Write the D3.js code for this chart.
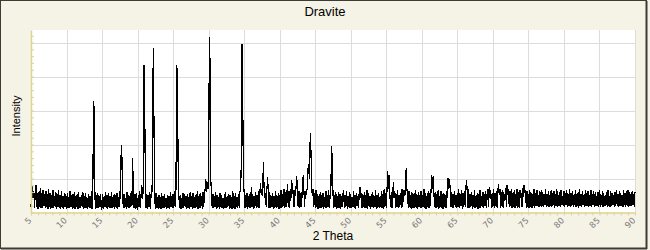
<!DOCTYPE html>
<html>
<head>
<meta charset="utf-8">
<script src="https://cdn.jsdelivr.net/npm/d3@7"></script>
<style>
  body { margin: 0; background: #f5f2e6; }
  svg { display: block; }
</style>
</head>
<body>
<script>
// XRD pattern, one value every 0.1 deg from 5 to 90 (2 theta)
var startAngle = 5;
var stepAngle = 0.1;
var intensity = [
  17,70,78,43,63,13,56,80,16,57,   // 5
  11,60,17,72,13,56,12,66,18,53,   // 6
  12,63,15,55,10,69,16,58,11,52,   // 7
  14,65,12,49,17,61,10,54,15,66,   // 8
  13,51,11,63,14,47,9,58,17,54,    // 9
  11,56,14,45,12,62,16,50,10,53,   // 10
  13,59,11,48,15,55,9,61,14,46,    // 11
  12,52,16,60,10,49,14,57,12,44,   // 12
  10,55,14,47,13,63,11,60,328,300, // 13
  46,10,52,13,58,12,49,15,55,9,    // 14
  14,53,11,47,15,61,12,50,10,56,   // 15
  14,48,12,59,13,45,16,54,11,51,   // 16
  13,57,10,46,15,63,40,198,160,50, // 17
  12,55,14,44,10,59,16,52,12,47,   // 18
  15,61,20,160,70,14,54,10,58,16,  // 19
  12,52,17,63,13,56,80,40,66,434,  // 20
  324,68,13,55,11,50,15,59,10,53,  // 21
  80,60,485,278,48,11,57,14,46,10, // 22
  51,13,45,10,58,14,49,12,54,16,   // 23
  43,10,52,13,47,11,60,15,48,12,   // 24
  55,14,63,17,70,434,406,151,56,12,// 25
  50,11,44,14,58,12,53,16,47,10,   // 26
  54,13,46,10,61,15,49,11,57,14,   // 27
  45,12,52,15,64,10,48,13,56,14,   // 28
  47,11,60,16,54,68,98,60,90,70,   // 29
  116,515,437,95,58,13,55,12,49,15,// 30
  61,11,52,14,46,10,57,15,50,12,   // 31
  44,10,53,14,59,12,47,16,55,11,   // 32
  51,13,45,11,63,14,48,10,56,16,   // 33
  46,12,54,14,60,68,151,496,331,64,// 34
  66,12,52,15,58,11,47,14,55,13,   // 35
  76,16,53,10,48,14,59,12,51,17,   // 36
  63,14,56,87,53,66,48,150,72,43,  // 37
  58,16,68,104,53,13,61,12,49,15,  // 38
  56,10,47,14,63,12,52,17,58,11,   // 39
  50,14,66,12,55,18,70,13,59,16,   // 40
  53,84,17,64,14,68,43,95,56,66,   // 41
  17,66,48,76,107,53,16,63,13,56,  // 42
  15,60,43,110,68,17,63,52,66,70,  // 43
  131,143,100,235,180,75,48,70,16,58, // 44
  13,65,17,54,11,49,14,60,12,52,   // 45
  15,57,10,46,14,63,12,51,16,66,   // 46
  13,54,70,196,151,56,12,52,15,59, // 47
  11,48,14,61,13,55,10,47,16,53,   // 48
  66,12,52,15,64,11,49,17,60,14,   // 49
  55,12,46,15,63,13,52,10,58,18,   // 50
  48,13,66,76,43,58,12,53,16,61,   // 51
  12,50,14,65,11,56,17,47,10,54,   // 52
  15,60,12,48,16,66,10,52,14,57,   // 53
  12,45,15,63,13,53,10,68,17,56,   // 54
  14,66,123,70,110,53,16,60,12,56, // 55
  90,43,63,13,55,17,66,12,52,15,   // 56
  58,14,70,17,53,66,48,72,130,68,  // 57
  56,12,63,15,51,11,59,14,54,13,   // 58
  47,66,14,55,10,61,16,50,13,63,   // 59
  12,52,17,68,14,57,10,49,15,64,   // 60
  14,56,18,66,110,70,108,58,16,60, // 61
  12,53,15,66,11,49,17,62,13,55,   // 62
  10,58,16,51,13,64,43,100,70,98,  // 63
  66,17,60,14,55,12,63,16,52,13,   // 64
  58,15,70,12,54,18,66,11,57,15,   // 65
  63,17,72,95,56,14,68,13,55,16,   // 66
  61,11,52,15,65,13,49,17,58,10,   // 67
  53,14,66,12,48,16,60,13,55,18,   // 68
  63,12,52,70,17,76,48,66,14,58,   // 69
  15,69,12,56,18,63,14,66,83,52,   // 70
  70,14,59,17,66,12,55,43,72,16,   // 71
  82,53,68,15,62,18,70,13,57,17,   // 72
  65,13,54,19,68,14,60,12,66,44,   // 73
  56,15,71,46,82,58,66,14,63,17,   // 74
  53,13,66,16,58,12,55,18,68,14,   // 75
  56,18,65,20,51,16,62,19,67,17,   // 76
  59,15,53,21,68,17,55,19,64,16,   // 77
  50,18,66,16,57,22,62,14,54,20,   // 78
  69,17,52,19,61,15,65,21,49,18,   // 79
  63,16,56,22,67,15,53,19,70,17,   // 80
  58,19,64,16,51,21,66,17,55,18,   // 81
  61,14,68,20,54,17,63,22,50,16,   // 82
  65,18,57,20,62,15,52,19,67,17,   // 83
  54,21,64,16,59,18,49,19,61,15,   // 84
  66,17,53,21,62,16,57,19,51,18,   // 85
  60,15,65,20,48,17,63,18,56,21,   // 86
  52,16,61,19,67,18,54,15,64,20,   // 87
  58,19,50,17,65,21,56,16,62,18,   // 88
  67,17,59,20,53,18,64,21,55,16,   // 89
  61                               // 90
];
var xTickLabels = [5,10,15,20,25,30,35,40,45,50,55,60,65,70,75,80,85,90];
var yGridValues = [100,200,300,400,500];
var chartTitle = "Dravite";
var xTitle = "2 Theta";
var yTitle = "Intensity";

var w = 650, h = 250;
var svg = d3.select("body").append("svg").attr("width", w).attr("height", h);

// fondo y marco
svg.append("rect").attr("width", w).attr("height", h).attr("fill", "#f5f2e6");
svg.append("rect").attr("x", 0.5).attr("y", 0.5).attr("width", 646).attr("height", 248)
   .attr("fill", "none").attr("stroke", "#3d3b35").attr("stroke-width", 1);
svg.append("line").attr("x1", 646.5).attr("x2", 646.5).attr("y1", 1).attr("y2", 249)
   .attr("stroke", "#3d3b35").attr("stroke-width", 2);
svg.append("line").attr("x1", 1).attr("x2", 647).attr("y1", 248.5).attr("y2", 248.5)
   .attr("stroke", "#3d3b35").attr("stroke-width", 2);

var x = d3.scaleLinear().domain([5, 90]).range([31, 635]);
var y = d3.scaleLinear().domain([0, 537]).range([212.5, 30]);

// area blanca del grafico
svg.append("rect").attr("x", 31).attr("y", 30).attr("width", 605).attr("height", 182.5)
   .attr("fill", "#ffffff");

// rejilla
svg.append("g").selectAll("line").data(xTickLabels.slice(1)).enter().append("line")
   .attr("x1", function(d){ return Math.round(x(d)) + 0.5; })
   .attr("x2", function(d){ return Math.round(x(d)) + 0.5; })
   .attr("y1", 30).attr("y2", 212)
   .attr("stroke", "#dcdcdc").attr("stroke-width", 1);
svg.append("g").selectAll("line").data(yGridValues).enter().append("line")
   .attr("x1", 31).attr("x2", 636)
   .attr("y1", function(d){ return Math.round(y(d)) + 0.5; })
   .attr("y2", function(d){ return Math.round(y(d)) + 0.5; })
   .attr("stroke", "#dcdcdc").attr("stroke-width", 1);

// la linea de datos (sin suavizado, como el original)
var line = d3.line()
   .x(function(d, i){ return x(startAngle + i * stepAngle); })
   .y(function(d){ return y(d); });
svg.append("path").datum(intensity)
   .attr("d", line)
   .attr("fill", "none").attr("stroke", "#000").attr("stroke-width", 1.2)
   .attr("shape-rendering", "crispEdges");

var axisColor = "#dcd592";

// eje x con marcas cada grado
var gx = svg.append("g").attr("transform", "translate(0,212.5)")
   .call(d3.axisBottom(x).tickValues(d3.range(5, 91, 1)).tickSize(3).tickSizeOuter(0).tickFormat(""));
gx.select(".domain").attr("stroke", axisColor).attr("stroke-width", 1.5);
gx.selectAll(".tick line").attr("stroke", axisColor);

// etiquetas giradas
svg.append("g").selectAll("text").data(xTickLabels).enter().append("text")
   .attr("transform", function(d){ return "translate(" + (x(d) + 1) + ",221) rotate(-45)"; })
   .attr("text-anchor", "end")
   .attr("font-family", "DejaVu Sans")
   .attr("font-size", 8.5)
   .attr("fill", "#7a7a7a")
   .text(function(d){ return d; });

// eje y, marcas hacia dentro, sin numeros
var gy = svg.append("g").attr("transform", "translate(31,0)")
   .call(d3.axisRight(y).tickValues(d3.range(0, 537, 20)).tickSize(3).tickSizeOuter(0).tickFormat(""));
gy.select(".domain").attr("stroke", axisColor).attr("stroke-width", 1.5);
gy.selectAll(".tick line").attr("stroke", axisColor);

// textos
svg.append("text").attr("x", 325).attr("y", 16).attr("text-anchor", "middle")
   .attr("font-family", "Liberation Sans").attr("font-size", 13).attr("fill", "#000")
   .text(chartTitle);
svg.append("text").attr("x", 333).attr("y", 240).attr("text-anchor", "middle")
   .attr("font-family", "Liberation Sans").attr("font-size", 12).attr("fill", "#000")
   .text(xTitle);
svg.append("text").attr("transform", "translate(20,116) rotate(-90)").attr("text-anchor", "middle")
   .attr("font-family", "Liberation Sans").attr("font-size", 11).attr("fill", "#000")
   .text(yTitle);
</script>
</body>
</html>
